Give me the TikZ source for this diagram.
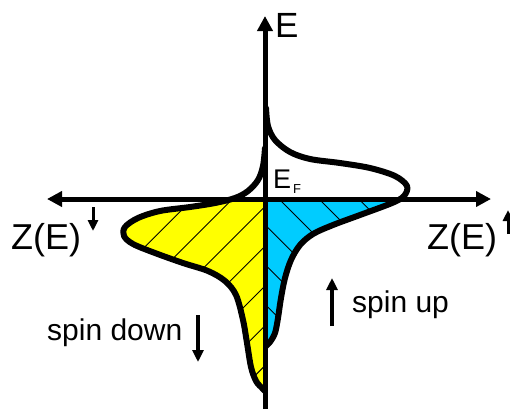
\documentclass[tikz,border=0pt]{standalone}
\usepackage{fontspec}
\setmainfont{Liberation Sans}
\usetikzlibrary{arrows.meta}
\definecolor{spinyellow}{RGB}{255,255,0}
\definecolor{spinblue}{RGB}{0,204,255}
\begin{document}
\begin{tikzpicture}[x=1pt,y=-1pt,
  curve/.style={line width=6pt, line join=round, line cap=round},
  axisline/.style={line width=5pt},
  hatch/.style={line width=0.9pt},
  lbl/.style={inner sep=0pt, anchor=base west},
  spinarrow/.style={line width=3.2pt,-{Triangle[length=12pt,width=11pt]}},
  suparrow/.style={line width=3pt,-{Triangle[length=11pt,width=10pt]}}]
\useasboundingbox (0,0) rectangle (510,408);
\def\upcurve{plot[smooth,tension=0.55] coordinates {(266,108) (268,126) (275,140) (290,152) (310,159) (340,163) (370,168) (395,176) (407,186) (404,196) (392,203) (360,215) (333,225) (313,234) (300,245) (291,260) (285,278) (281,298) (278,318) (275,333) (270,342) (266,346)}}
\def\downcurve{plot[smooth,tension=0.55] coordinates {(265,148) (263,166) (258,180) (248,191) (235,198) (215,203) (190,207) (160,211) (138,218) (125,227) (124,236) (133,244) (155,253) (183,263) (208,271) (225,281) (236,295) (243,320) (247,343) (251,367) (256,381) (262,388) (265,391)}}
% blue (spin up) filled part
\begin{scope}
  \clip (265,199) rectangle (520,420);
  \fill[spinblue] \upcurve -- cycle;
  \clip \upcurve -- cycle;
  \foreach \k in {0,...,8} {
    \pgfmathsetmacro\c{-199.5+39.8*\k}
    \draw[hatch] (100,100+\c) -- (450,450+\c);
  }
\end{scope}
% yellow (spin down) filled part
\begin{scope}
  \clip (0,199) rectangle (265,420);
  \fill[spinyellow] \downcurve -- cycle;
  \clip \downcurve -- cycle;
  \foreach \k in {0,...,8} {
    \pgfmathsetmacro\c{352+39.8*\k}
    \draw[hatch] (\c-450,450) -- (\c-100,100);
  }
\end{scope}
\draw[curve] \upcurve;
\draw[curve] \downcurve;
% axes
\coordinate (vb) at (265,420);
\coordinate (vt) at (265,16);
\coordinate (hl) at (47,199);
\coordinate (hr) at (491,199);
\draw[axisline,{Triangle[length=15pt,width=15pt]}-{Triangle[length=15pt,width=15pt]}] (hl) -- (hr);
\draw[axisline,-{Triangle[length=15pt,width=15pt]}] (vb) -- (vt);
% labels
\node[lbl, font=\fontsize{35}{42}\selectfont] (E) at (275,37) {E};
\node[lbl, font=\fontsize{27}{32}\selectfont] (EF) at (273,188) {E\kern2pt\raisebox{-5pt}{\fontsize{13}{15}\selectfont F}};
\node[lbl, font=\fontsize{36}{42}\selectfont] (ZL) at (11,249) {Z(E)};
\node[lbl, font=\fontsize{36}{42}\selectfont] (ZR) at (427,249) {Z(E)};
\node[lbl, font=\fontsize{30}{36}\selectfont] (up) at (352,312) {spin up};
\node[lbl, font=\fontsize{30}{36}\selectfont] (down) at (47,340) {spin down};
% spin arrows
\coordinate (upA) at (332,326);
\coordinate (upB) at (332,278);
\draw[spinarrow] (upA) -- (upB);
\coordinate (dnA) at (198,315);
\coordinate (dnB) at (198,362);
\draw[spinarrow] (dnA) -- (dnB);
\coordinate (zlA) at (93,207);
\coordinate (zlB) at (93,231);
\draw[suparrow] (zlA) -- (zlB);
\coordinate (zrA) at (508,234);
\coordinate (zrB) at (508,210);
\draw[suparrow] (zrA) -- (zrB);
\end{tikzpicture}
\end{document}
